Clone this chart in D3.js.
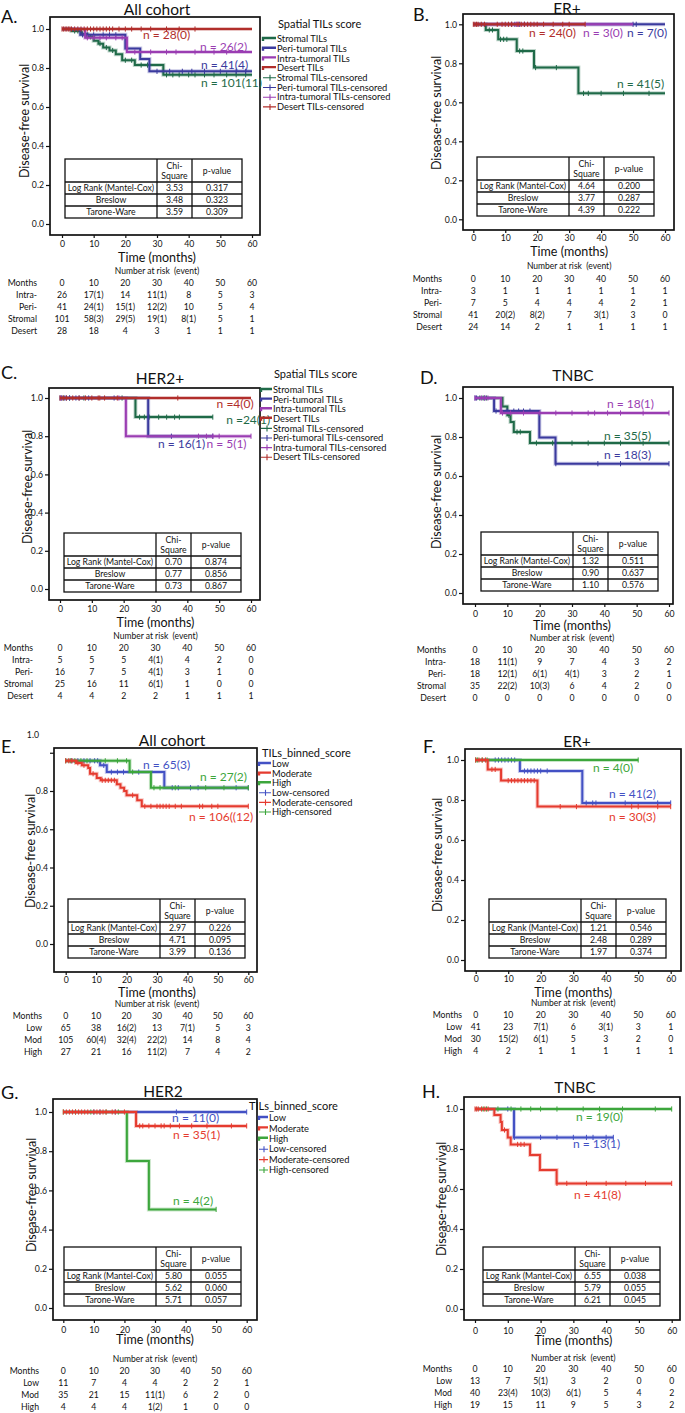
<!DOCTYPE html>
<head>
<meta charset="utf-8">
<script src="https://d3js.org/d3.v7.min.js"></script>
<style>
  body { margin: 0; background: #fff; }
  text { font-family: Lato, "Open Sans", sans-serif; fill: #111; }
  .axis text { font-size: 8.7px; }
  .axis path.domain { display: none; }
  .axis line { stroke: #111; stroke-width: 1.2; }
  text.title { font-size: 15.5px; }
  text.letter { font-size: 18px; }
  text.axisTitle { font-size: 12.5px; }
  text.cell { font-size: 8.7px; }
  text.risk { font-size: 8.7px; }
  text.riskTitle { font-size: 8.5px; }
  text.nlab { font-size: 12px; }
  text.legTitle { font-size: 11px; }
  text.legItem { font-size: 9.3px; }
</style>
</head>
<body>
<script>
// ---------- shared values ----------
const monthTicks = [0, 10, 20, 30, 40, 50, 60];
const survTicks = [0, 0.2, 0.4, 0.6, 0.8, 1.0];
const spatialGroups = ["Stromal TILs", "Peri-tumoral TILs", "Intra-tumoral TILs", "Desert TILs"];
const binnedGroups = ["Low", "Moderate", "High"];
const spatialRiskRows = ["Intra-", "Peri-", "Stromal", "Desert"];
const binnedRiskRows = ["Low", "Mod", "High"];
const statMethods = ["Log Rank (Mantel-Cox)", "Breslow", "Tarone-Ware"];

// ---------- A. All cohort (spatial) : Stromal, Peri, Intra, Desert ----------
const aSteps = [
  [[0, 1], [3, 0.99], [6, 0.975], [8, 0.96], [10, 0.94], [11.5, 0.925], [13, 0.905], [15, 0.89], [17, 0.87], [19, 0.84], [23, 0.815], [32, 0.765]],
  [[0, 1], [5.8, 0.97], [20, 0.9], [24.7, 0.846], [27.6, 0.783]],
  [[0, 1], [7.3, 0.955], [20.5, 0.882]],
  [[0, 1]]
];
const aEnds = [60, 60, 60, 60];
const aCensor = [
  [4, 5, 6.5, 9, 12, 14, 16, 20, 22, 25, 27, 33, 35, 37, 40, 42, 45, 48, 52, 55, 58],
  [6.5, 8, 10, 13, 15, 17, 30, 34, 38, 41, 45, 50, 55, 58],
  [8, 10, 12, 14, 17, 19, 23, 28, 33, 36, 42, 48, 52],
  [0, 0.5, 1, 1.5, 2, 2.5, 3, 4, 5, 6, 7, 8, 9, 10, 11, 12, 13, 14, 15, 16, 18, 20, 22, 25, 28, 33, 37, 42]
];
const aN = ["n = 101(11)", "n = 41(4)", "n = 26(2)", "n = 28(0)"];
const aStats = [["3.53", "0.317"], ["3.48", "0.323"], ["3.59", "0.309"]];
const aRisk = [
  ["26", "17(1)", "14", "11(1)", "8", "5", "3"],
  ["41", "24(1)", "15(1)", "12(2)", "10", "5", "4"],
  ["101", "58(3)", "29(5)", "19(1)", "8(1)", "5", "1"],
  ["28", "18", "4", "3", "1", "1", "1"]
];

// ---------- B. ER+ (spatial) ----------
const bSteps = [
  [[0, 1], [3.9, 0.971], [7.8, 0.923], [13.6, 0.863], [19, 0.778], [32.9, 0.646]],
  [[0, 1]],
  [[0, 1]],
  [[0, 1]]
];
const bEnds = [60, 60, 50, 35];
const bCensor = [
  [5, 6, 8.5, 9.5, 10.5, 14.5, 15.5, 19.5, 26, 34.5, 36, 40, 47, 55],
  [12, 13, 14.5, 16, 50, 51],
  [13.5, 14],
  [0, 0.5, 1, 1.5, 2.5, 3.5, 7.5, 9, 10, 11, 12, 14, 15, 16, 17, 18, 19, 20, 22, 25, 28, 30, 35]
];
const bN = ["n = 41(5)", "n = 7(0)", "n = 3(0)", "n = 24(0)"];
const bStats = [["4.64", "0.200"], ["3.77", "0.287"], ["4.39", "0.222"]];
const bRisk = [
  ["3", "1", "1", "1", "1", "1", "1"],
  ["7", "5", "4", "4", "4", "2", "1"],
  ["41", "20(2)", "8(2)", "7", "3(1)", "3", "0"],
  ["24", "14", "2", "1", "1", "1", "1"]
];

// ---------- C. HER2+ (spatial) ----------
const cSteps = [
  [[0, 1], [23.7, 0.9]],
  [[0, 1], [27.7, 0.8]],
  [[0, 1], [20.7, 0.8]],
  [[0, 1]]
];
const cEnds = [48, 48, 60, 60];
const cCensor = [
  [1, 3, 7.5, 19.5, 25, 26.5, 28, 31, 33.5, 36, 37.5, 48],
  [0, 0.5, 1.5, 2, 3, 5, 6, 9, 17, 35, 48],
  [0.3, 18.5, 43.5, 46, 48, 50, 60],
  [0, 1, 2, 4, 6, 8, 10, 12, 12.5, 14, 18, 37]
];
const cN = ["n =24(1)", "n = 16(1)", "n = 5(1)", "n =4(0)"];
const cStats = [["0.70", "0.874"], ["0.77", "0.856"], ["0.73", "0.867"]];
const cRisk = [
  ["5", "5", "5", "4(1)", "4", "2", "0"],
  ["16", "7", "5", "4(1)", "3", "1", "0"],
  ["25", "16", "11", "6(1)", "1", "0", "0"],
  ["4", "4", "2", "2", "1", "1", "1"]
];

// ---------- D. TNBC (spatial, no desert cases) ----------
const dSteps = [
  [[0, 1], [8.5, 0.957], [10, 0.911], [11, 0.877], [12, 0.826], [17, 0.769]],
  [[0, 1], [5.9, 0.933], [19.9, 0.797], [24.9, 0.663]],
  [[0, 1], [8, 0.923]],
  null
];
const dEnds = [60, 60, 60, 0];
const dCensor = [
  [1.5, 2.5, 3.5, 10.5, 13, 14, 19, 24, 30, 35, 40, 45, 52, 60],
  [0, 0.5, 3, 6.5, 10, 12, 13.5, 15, 17, 25, 38, 45, 60],
  [0, 2, 3, 4, 8.5, 11, 15, 20, 25, 30, 35, 37, 41, 45, 52, 60],
  []
];
const dN = ["n = 35(5)", "n = 18(3)", "n = 18(1)", ""];
const dStats = [["1.32", "0.511"], ["0.90", "0.637"], ["1.10", "0.576"]];
const dRisk = [
  ["18", "11(1)", "9", "7", "4", "3", "2"],
  ["18", "12(1)", "6(1)", "4(1)", "3", "2", "1"],
  ["35", "22(2)", "10(3)", "6", "4", "2", "0"],
  ["0", "0", "0", "0", "0", "0", "0"]
];

// ---------- E. All cohort (binned) : Low, Moderate, High ----------
const eSteps = [
  [[0, 0.958], [11.3, 0.934], [13.5, 0.899], [32.4, 0.817]],
  [[0, 0.958], [3.4, 0.947], [5.3, 0.935], [7.4, 0.92], [8, 0.89], [10.2, 0.868], [11.5, 0.856], [16.8, 0.835], [18, 0.817], [19.2, 0.8], [20, 0.778], [23.5, 0.752], [25, 0.72]],
  [[0, 0.958], [21, 0.899], [28, 0.817]]
];
const eEnds = [60, 60, 60];
const eCensor = [
  [2, 4, 6, 8, 9.5, 10.5, 12.5, 15, 17, 19, 24, 35, 37, 41, 43.5, 56, 60],
  [0, 1, 2, 4, 6, 9, 12, 13, 14, 15, 16, 22, 26, 28, 30, 31, 32, 33, 34, 36, 38, 44, 45, 48, 50, 60],
  [0, 1.5, 3, 5, 7, 13, 17, 20, 22, 29, 31, 36, 46, 52, 60]
];
const eN = ["n = 65(3)", "n = 106((12)", "n = 27(2)"];
const eStats = [["2.97", "0.226"], ["4.71", "0.095"], ["3.99", "0.136"]];
const eRisk = [
  ["65", "38", "16(2)", "13", "7(1)", "5", "3"],
  ["105", "60(4)", "32(4)", "22(2)", "14", "8", "4"],
  ["27", "21", "16", "11(2)", "7", "4", "2"]
];

// ---------- F. ER+ (binned) ----------
const fSteps = [
  [[0, 1], [13.6, 0.945], [32.8, 0.785]],
  [[0, 1], [3.7, 0.953], [7.8, 0.897], [19, 0.767]],
  [[0, 1]]
];
const fEnds = [60, 60, 50];
const fCensor = [
  [6, 7, 8, 9, 10, 11, 12, 15, 16, 17, 18, 19, 20, 22, 34, 36, 37, 46, 56, 60],
  [0, 1, 2, 3, 5, 6, 10, 11, 12, 13, 14, 15, 16, 17, 18, 26, 31, 48, 50, 56, 60],
  [0, 0.5, 2, 3.5, 50]
];
const fN = ["n = 41(2)", "n = 30(3)", "n = 4(0)"];
const fStats = [["1.21", "0.546"], ["2.48", "0.289"], ["1.97", "0.374"]];
const fRisk = [
  ["41", "23", "7(1)", "6", "3(1)", "3", "1"],
  ["30", "15(2)", "6(1)", "5", "3", "2", "0"],
  ["4", "2", "1", "1", "1", "1", "1"]
];

// ---------- G. HER2 (binned) ----------
const gSteps = [
  [[0, 1]],
  [[0, 1], [23.8, 0.929]],
  [[0, 1], [20.8, 0.75], [28, 0.503]]
];
const gEnds = [60, 60, 50];
const gCensor = [
  [10, 12, 17, 37, 60],
  [0, 1, 2, 3, 4, 5, 6, 7, 8, 10, 11, 12, 13, 14, 16, 17, 20, 25, 26, 28, 30, 32, 33, 35, 38, 42, 47, 55, 60],
  [0, 4, 9, 14, 18, 50]
];
const gN = ["n = 11(0)", "n = 35(1)", "n = 4(2)"];
const gStats = [["5.80", "0.055"], ["5.62", "0.060"], ["5.71", "0.057"]];
const gRisk = [
  ["11", "7", "4", "4", "2", "2", "1"],
  ["35", "21", "15", "11(1)", "6", "2", "0"],
  ["4", "4", "4", "1(2)", "1", "0", "0"]
];

// ---------- H. TNBC (binned) ----------
const hSteps = [
  [[0, 1], [11.9, 0.858]],
  [[0, 1], [5.9, 0.97], [7.8, 0.935], [8.2, 0.895], [10, 0.858], [10.9, 0.823], [16.8, 0.77], [19.8, 0.695], [24.9, 0.628]],
  [[0, 1]]
];
const hEnds = [42.2, 60, 60];
const hCensor = [
  [10, 12, 20, 25, 30, 34, 36, 40, 42.2],
  [0, 0.5, 1, 2, 3, 4, 9, 13, 14, 15, 25, 28, 34, 40, 46, 52, 60],
  [2.5, 3.5, 7, 11, 14, 17, 20, 25, 33, 38, 45, 55, 60]
];
const hN = ["n = 13(1)", "n = 41(8)", "n = 19(0)"];
const hStats = [["6.55", "0.038"], ["5.79", "0.055"], ["6.21", "0.045"]];
const hRisk = [
  ["13", "7", "5(1)", "3", "2", "0", "0"],
  ["40", "23(4)", "10(3)", "6(1)", "5", "4", "2"],
  ["19", "15", "11", "9", "5", "3", "2"]
];

// ---------- colours ----------
const spatialColors = ["#1f6a48", "#3b3a9e", "#9a3db2", "#b12e2b"];
const binnedColors = ["#4351c4", "#e53b2f", "#3ca63c"];

// ---------- layout ----------
const panels = [
  { letter: "A.", title: "All cohort", steps: aSteps, ends: aEnds, censor: aCensor, n: aN, stats: aStats, risk: aRisk,
    groups: spatialGroups, rows: spatialRiskRows, colors: spatialColors, order: [0, 1, 2, 3],
    frame: [50, 17, 260, 235], xr: [62, 252], yr: [224, 29], letterPos: [1, 17], titlePos: [157, 9.5], ylab: [25, 121],
    nPos: [[43.9, 0.723], [43.9, 0.815], [43.6, 0.908], [25.6, 0.969]], table: [65, 159],
    tickY: 244, timeY: 258, riskY: 271, monthsY: 283, labelX: 37,
    legend: { title: "Spatial TILs score", tx: 278, ty: 24, sx: 263, lx: 277, y0: 39, step: 9.7 } },
  { letter: "B.", title: "ER+", steps: bSteps, ends: bEnds, censor: bCensor, n: bN, stats: bStats, risk: bRisk,
    groups: spatialGroups, rows: spatialRiskRows, colors: spatialColors, order: [0, 1, 2, 3],
    frame: [463, 14, 674, 230], xr: [473.3, 665], yr: [219.3, 24.3], letterPos: [413, 15], titlePos: [567, 8.5], ylab: [437, 113],
    nPos: [[45, 0.694], [48.1, 0.955], [34.3, 0.955], [17.4, 0.955]], table: [477, 157],
    tickY: 238, timeY: 252, riskY: 266, monthsY: 279, labelX: 442 },
  { letter: "C.", title: "HER2+", steps: cSteps, ends: cEnds, censor: cCensor, n: cN, stats: cStats, risk: cRisk,
    groups: spatialGroups, rows: spatialRiskRows, colors: spatialColors, order: [0, 1, 2, 3],
    frame: [49, 388, 260, 600], xr: [60, 251], yr: [589, 398], letterPos: [1, 373], titlePos: [160, 379], ylab: [28, 487],
    nPos: [[52.2, 0.885], [30.8, 0.759], [46, 0.759], [49.2, 0.969]], table: [64, 533],
    tickY: 609, timeY: 623, riskY: 636, monthsY: 648, labelX: 33,
    legend: { title: "Spatial TILs score", tx: 274, ty: 374, sx: 261, lx: 273, y0: 390, step: 9.6 } },
  { letter: "D.", title: "TNBC", steps: dSteps, ends: dEnds, censor: dCensor, n: dN, stats: dStats, risk: dRisk,
    groups: spatialGroups, rows: spatialRiskRows, colors: spatialColors, order: [0, 1, 2, 3],
    frame: [463, 387, 673, 604], xr: [475, 669], yr: [593, 398], letterPos: [420, 378], titlePos: [573, 376], ylab: [437, 492],
    nPos: [[39.9, 0.805], [39.9, 0.708], [40.8, 0.969], [0, 0]], table: [481, 532],
    tickY: 614, timeY: 626, riskY: 638, monthsY: 650, labelX: 446 },
  { letter: "E.", title: "All cohort", steps: eSteps, ends: eEnds, censor: eCensor, n: eN, stats: eStats, risk: eRisk,
    groups: binnedGroups, rows: binnedRiskRows, colors: binnedColors, order: [0, 2, 1],
    frame: [54, 748, 257, 972], xr: [65.7, 248.3], yr: [944, 752.75], letterPos: [1, 747], titlePos: [172, 741], ylab: [31, 851],
    nPos: [[25.4, 0.936], [40.5, 0.664], [44.1, 0.873]], table: [68, 899], floatingOne: [39, 735],
    tickY: 980, timeY: 993, riskY: 1004, monthsY: 1016, labelX: 42,
    legend: { title: "TILs_binned_score", tx: 262, ty: 753, sx: 259, lx: 272, y0: 764, step: 9.6 } },
  { letter: "F.", title: "ER+", steps: fSteps, ends: fEnds, censor: fCensor, n: fN, stats: fStats, risk: fRisk,
    groups: binnedGroups, rows: binnedRiskRows, colors: binnedColors, order: [0, 2, 1],
    frame: [465, 749, 681, 971], xr: [475.7, 670.7], yr: [960, 760], letterPos: [423, 747], titlePos: [577, 742], ylab: [438, 855],
    nPos: [[41, 0.83], [41, 0.715], [36.1, 0.96]], table: [489, 899],
    tickY: 979, timeY: 993, riskY: 1003, monthsY: 1015, labelX: 462 },
  { letter: "G.", title: "HER2", steps: gSteps, ends: gEnds, censor: gCensor, n: gN, stats: gStats, risk: gRisk,
    groups: binnedGroups, rows: binnedRiskRows, colors: binnedColors, order: [0, 2, 1],
    frame: [53, 1099, 257, 1320], xr: [63.3, 246.7], yr: [1308, 1112], letterPos: [1, 1093], titlePos: [163, 1092], ylab: [32, 1195],
    nPos: [[35.6, 0.969], [35.9, 0.883], [35.9, 0.546]], table: [64, 1247],
    tickY: 1330, timeY: 1340, riskY: 1359, monthsY: 1371, labelX: 39,
    legend: { title: "TILs_binned_score", tx: 249, ty: 1106, sx: 259, lx: 269, y0: 1118, step: 10.4 } },
  { letter: "H.", title: "TNBC", steps: hSteps, ends: hEnds, censor: hCensor, n: hN, stats: hStats, risk: hRisk,
    groups: binnedGroups, rows: binnedRiskRows, colors: binnedColors, order: [0, 2, 1],
    frame: [464, 1097, 680, 1320], xr: [475, 671.7], yr: [1309, 1109], letterPos: [422, 1092], titlePos: [575, 1088], ylab: [442, 1199],
    nPos: [[29.9, 0.825], [30.2, 0.57], [30.8, 0.96]], table: [483, 1247],
    tickY: 1331, timeY: 1341, riskY: 1358, monthsY: 1369, labelX: 452 }
];

const width = 685, height = 1413;
const svg = d3.select("body").append("svg").attr("width", width).attr("height", height);

const stepValue = (steps, t) => {
  let v = steps[0][1];
  steps.forEach(s => { if (s[0] <= t) v = s[1]; });
  return v;
};

function drawPanel(p) {
  const g = svg.append("g");
  const x = d3.scaleLinear().domain([0, 60]).range(p.xr);
  const y = d3.scaleLinear().domain([0, 1]).range(p.yr);
  const [fx0, fy0, fx1, fy1] = p.frame;

  // frame
  g.append("rect")
    .attr("x", fx0).attr("y", fy0)
    .attr("width", fx1 - fx0).attr("height", fy1 - fy0)
    .attr("fill", "none").attr("stroke", "#111").attr("stroke-width", 1.7);

  // axes
  const fmt = d3.format(".1f");
  g.append("g").attr("class", "axis")
    .attr("transform", `translate(${fx0},0)`)
    .call(d3.axisLeft(y).tickValues(survTicks).tickSize(4).tickPadding(2)
      .tickFormat(d => (p.floatingOne && d === 1) ? "" : fmt(d)));
  g.append("g").attr("class", "axis")
    .attr("transform", `translate(0,${fy1})`)
    .call(d3.axisBottom(x).tickValues(monthTicks).tickSize(3).tickPadding(p.tickY - fy1 - 6));

  if (p.floatingOne) {
    g.append("text").attr("class", "axis").style("font-size", "8.7px")
      .attr("x", p.floatingOne[0]).attr("y", p.floatingOne[1]).attr("dy", "0.35em")
      .attr("text-anchor", "end").text("1.0");
  }

  // titles
  g.append("text").attr("class", "title").attr("x", p.titlePos[0]).attr("y", p.titlePos[1])
    .attr("dy", "0.35em").attr("text-anchor", "middle").text(p.title);
  g.append("text").attr("class", "letter").attr("x", p.letterPos[0]).attr("y", p.letterPos[1])
    .attr("dy", "0.35em").text(p.letter);
  g.append("text").attr("class", "axisTitle")
    .attr("transform", `translate(${p.ylab[0]},${p.ylab[1]}) rotate(-90)`)
    .attr("dy", "0.35em").attr("text-anchor", "middle").text("Disease-free survival");
  g.append("text").attr("class", "axisTitle").attr("x", x(30)).attr("y", p.timeY)
    .attr("dy", "0.35em").attr("text-anchor", "middle").text("Time (months)");

  // survival curves
  const line = d3.line().x(d => x(d[0])).y(d => y(d[1])).curve(d3.curveStepAfter);
  p.order.forEach(i => {
    const steps = p.steps[i];
    if (!steps) return;
    const pts = steps.concat([[p.ends[i], steps[steps.length - 1][1]]]);
    const col = p.colors[i];
    g.append("path").attr("d", line(pts)).attr("fill", "none")
      .attr("stroke", col).attr("stroke-opacity", 0.28).attr("stroke-width", 4);
    g.append("path").attr("d", line(pts)).attr("fill", "none")
      .attr("stroke", col).attr("stroke-width", 2);
    g.selectAll(null).data(p.censor[i]).join("line")
      .attr("x1", t => x(t)).attr("x2", t => x(t))
      .attr("y1", t => y(stepValue(steps, t)) - 2.6)
      .attr("y2", t => y(stepValue(steps, t)) + 2.6)
      .attr("stroke", col).attr("stroke-width", 1);
  });

  // n labels
  p.n.forEach((txt, i) => {
    if (!txt) return;
    g.append("text").attr("class", "nlab")
      .attr("x", x(p.nPos[i][0])).attr("y", y(p.nPos[i][1])).attr("dy", "0.35em")
      .style("fill", p.colors[i]).text(txt);
  });

  // statistics table
  const cw = [92, 35, 50], hh = 23, rh = 12;
  const [tx, ty] = p.table;
  const tw = d3.sum(cw), th = hh + rh * 3;
  const tb = g.append("g");
  tb.append("rect").attr("x", tx).attr("y", ty).attr("width", tw).attr("height", th)
    .attr("fill", "#fff").attr("stroke", "#111").attr("stroke-width", 1.3);
  [cw[0], cw[0] + cw[1]].forEach(c => tb.append("line")
    .attr("x1", tx + c).attr("x2", tx + c).attr("y1", ty).attr("y2", ty + th)
    .attr("stroke", "#111").attr("stroke-width", 1.3));
  [0, 1, 2].forEach(r => tb.append("line")
    .attr("x1", tx).attr("x2", tx + tw).attr("y1", ty + hh + r * rh).attr("y2", ty + hh + r * rh)
    .attr("stroke", "#111").attr("stroke-width", 1.3));
  const c1 = tx + cw[0] + cw[1] / 2, c2 = tx + cw[0] + cw[1] + cw[2] / 2;
  tb.append("text").attr("class", "cell").attr("x", c1).attr("y", ty + 7).attr("dy", "0.35em")
    .attr("text-anchor", "middle").text("Chi-");
  tb.append("text").attr("class", "cell").attr("x", c1).attr("y", ty + 17).attr("dy", "0.35em")
    .attr("text-anchor", "middle").text("Square");
  tb.append("text").attr("class", "cell").attr("x", c2).attr("y", ty + 12).attr("dy", "0.35em")
    .attr("text-anchor", "middle").text("p-value");
  statMethods.forEach((m, r) => {
    const cy = ty + hh + r * rh + rh / 2;
    tb.append("text").attr("class", "cell").attr("x", tx + cw[0] / 2).attr("y", cy).attr("dy", "0.35em")
      .attr("text-anchor", "middle").text(m);
    tb.append("text").attr("class", "cell").attr("x", c1).attr("y", cy).attr("dy", "0.35em")
      .attr("text-anchor", "middle").text(p.stats[r][0]);
    tb.append("text").attr("class", "cell").attr("x", c2).attr("y", cy).attr("dy", "0.35em")
      .attr("text-anchor", "middle").text(p.stats[r][1]);
  });

  // number at risk
  g.append("text").attr("class", "riskTitle").attr("x", x(30)).attr("y", p.riskY).attr("dy", "0.35em")
    .attr("text-anchor", "middle").text("Number at risk\u00a0\u00a0(event)");
  const rowsAll = [["Months", monthTicks.map(String)]].concat(p.rows.map((r, i) => [r, p.risk[i]]));
  rowsAll.forEach((row, r) => {
    const ry = p.monthsY + r * 12;
    g.append("text").attr("class", "risk").attr("x", p.labelX).attr("y", ry).attr("dy", "0.35em")
      .attr("text-anchor", "end").text(row[0]);
    g.selectAll(null).data(row[1]).join("text").attr("class", "risk")
      .attr("x", (d, k) => x(monthTicks[k])).attr("y", ry).attr("dy", "0.35em")
      .attr("text-anchor", "middle").text(d => d);
  });

  // legend
  if (p.legend) {
    const L = p.legend;
    g.append("text").attr("class", "legTitle").attr("x", L.tx).attr("y", L.ty).attr("dy", "0.35em").text(L.title);
    const items = p.groups.map((n, i) => ({ n, i, c: false }))
      .concat(p.groups.map((n, i) => ({ n: n + "-censored", i, c: true })));
    items.forEach((it, k) => {
      const iy = L.y0 + k * L.step;
      const col = p.colors[it.i];
      if (!it.c) {
        g.append("path").attr("d", `M${L.sx},${iy + 2}V${iy - 1}H${L.lx - 1}`)
          .attr("fill", "none").attr("stroke", col).attr("stroke-width", 2.4);
      } else {
        g.append("path").attr("d", `M${L.sx},${iy}H${L.lx - 1}M${(L.sx + L.lx) / 2},${iy - 3}V${iy + 3}`)
          .attr("fill", "none").attr("stroke", col).attr("stroke-width", 1.1);
      }
      g.append("text").attr("class", "legItem").attr("x", L.lx).attr("y", iy).attr("dy", "0.35em").text(it.n);
    });
  }
}

panels.forEach(drawPanel);
</script>
</body>
